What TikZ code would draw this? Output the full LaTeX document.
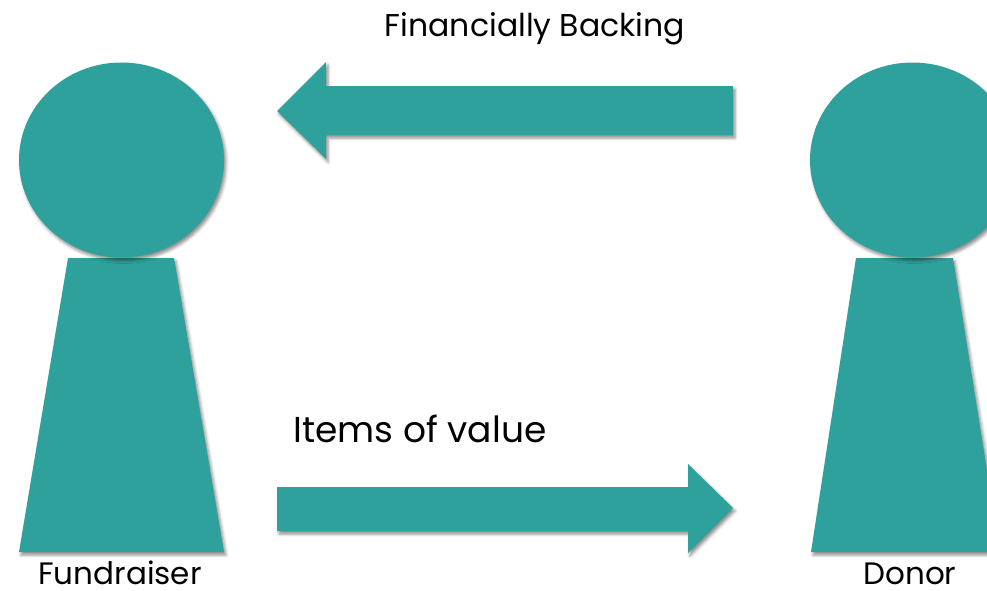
\documentclass[tikz,border=0pt]{standalone}
\usepackage{fontspec}
\setmainfont{Poppins}
\usetikzlibrary{shadows.blur}
\definecolor{teal1}{RGB}{46,161,157}
\begin{document}
\begin{tikzpicture}[x=1pt,y=-1pt,
  shape fill/.style={fill=teal1, draw=none,
    blur shadow={shadow xshift=2pt, shadow yshift=-3pt, shadow blur radius=3pt, shadow opacity=45}},
  lbl/.style={anchor=base, inner sep=0pt, text=black}]
\useasboundingbox (0,0) rectangle (987,590);
% left figure (Fundraiser)
\path[shape fill] (68,258) -- (174,258) -- (224,552) -- (19,552) -- cycle;
\path[shape fill] (121.5,160) ellipse [x radius=102.5, y radius=97.5];
% right figure (Donor)
\path[shape fill] (856,258) -- (953,258) -- (1000,552) -- (811,552) -- cycle;
\path[shape fill] (912.5,160) ellipse [x radius=102.5, y radius=97.5];
% top arrow (pointing left)
\path[shape fill] (733,86) -- (326,86) -- (326,62) -- (277,111) -- (326,159) -- (326,135) -- (733,135) -- cycle;
% bottom arrow (pointing right)
\path[shape fill] (277,487) -- (688,487) -- (688,464) -- (733,508) -- (688,553) -- (688,531) -- (277,531) -- cycle;
% labels
\node[lbl, font=\fontsize{31.5}{34}\selectfont] (fb) at (535,36) {Financially Backing};
\node[lbl, font=\fontsize{36}{40}\selectfont] (iv) at (420,442) {Items of value};
\node[lbl, font=\fontsize{31}{34}\selectfont] (fr) at (120,584) {Fundraiser};
\node[lbl, font=\fontsize{31}{34}\selectfont] (dn) at (910,584) {Donor};
\end{tikzpicture}
\end{document}
